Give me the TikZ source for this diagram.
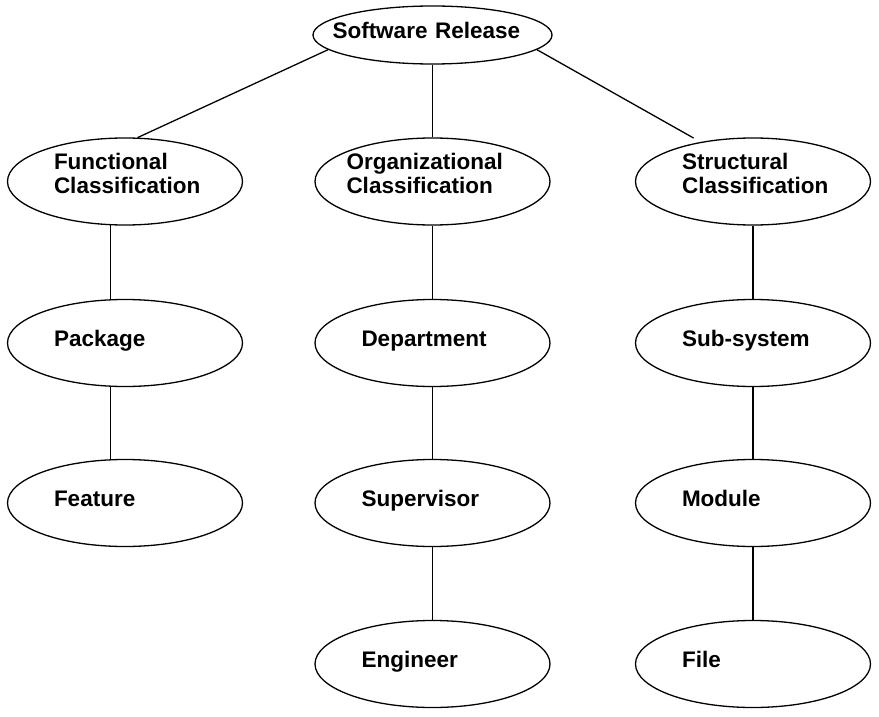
\documentclass[tikz,border=0pt]{standalone}
\usepackage{fontspec}
\setmainfont{Liberation Sans}
\usetikzlibrary{shapes.geometric}

\begin{document}
\begin{tikzpicture}[x=1pt,y=-1pt,
    box/.style={ellipse,draw=black,line width=1.3pt,minimum width=235pt,minimum height=87pt,
      inner xsep=-20pt,inner ysep=0pt,text width=142pt,align=left,
      font=\fontsize{22.5}{24.5}\selectfont\bfseries},
    word/.style={box,text height=16.5pt,text depth=9pt},
    pair/.style={box,text depth=40.5pt}]

\useasboundingbox (0,0) rectangle (879,717);

\node[word, minimum width=239pt, minimum height=58pt, text width=200pt] (sr) at (432.5,35) {Software Release};

\node[pair] (func) at (125,181.5) {Functional\\Classification};
\node[pair, text width=172pt] (org) at (432.5,181.5) {Organizational\\Classification};
\node[pair] (str) at (753,181.5) {Structural\\Classification};

\node[word] (pkg) at (125,343) {Package};
\node[word] (feat) at (125,503) {Feature};

\node[word] (dep) at (432.5,343) {Department};
\node[word] (sup) at (432.5,503) {Supervisor};
\node[word] (eng) at (432.5,664) {Engineer};

\node[word] (sub) at (753,343) {Sub-system};
\node[word] (mod) at (753,503) {Module};
\node[word] (file) at (753,664) {File};

\path[line width=1.3pt]
(sr.188) edge (func.74)
(sr.352) edge [shorten >=8pt] (str.143);

\path[line width=1pt]
(sr) edge (org)
(func.252) edge (pkg.108)
(pkg.252) edge (feat.108)
(org) edge (dep)
(dep) edge (sup)
(sup) edge (eng);

\path[line width=2pt]
(str) edge (sub)
(sub) edge (mod)
(mod) edge (file);

\end{tikzpicture}
\end{document}
